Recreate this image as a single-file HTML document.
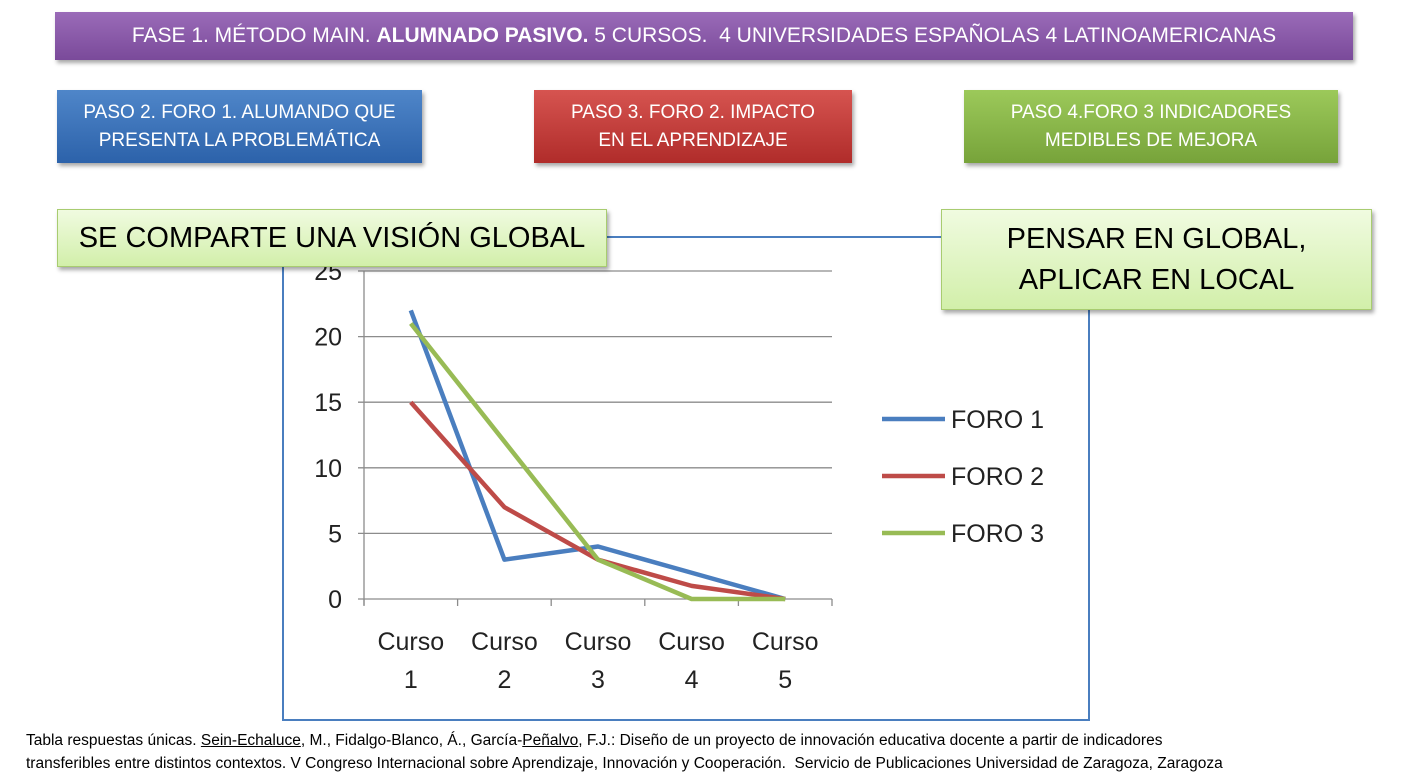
<!DOCTYPE html>
<html><head><meta charset="utf-8"><style>
body{margin:0;width:1425px;height:779px;background:#fff;overflow:hidden;position:relative;font-family:"Liberation Sans",sans-serif}
.b{position:absolute;box-sizing:border-box;display:flex;align-items:center;justify-content:center;text-align:center;box-shadow:2px 3px 4px rgba(0,0,0,.35)}
</style></head><body>
<div class="b" style="left:55px;top:12px;width:1298px;height:48px;background:linear-gradient(#9a6bb8,#7a4a9a);color:#fff;font-size:21px">FASE 1. MÉTODO MAIN.&nbsp;<b>ALUMNADO PASIVO.</b>&nbsp;5 CURSOS.&nbsp; 4 UNIVERSIDADES ESPAÑOLAS 4 LATINOAMERICANAS</div>
<div class="b" style="left:57px;top:90px;width:365px;height:73px;background:linear-gradient(#4f86c9,#2c62aa);color:#fff;font-size:19px;line-height:28px">PASO 2. FORO 1. ALUMANDO QUE<br>PRESENTA LA PROBLEMÁTICA</div>
<div class="b" style="left:534px;top:90px;width:318px;height:73px;background:linear-gradient(#d65450,#b02c2a);color:#fff;font-size:19px;line-height:28px">PASO 3. FORO 2. IMPACTO<br>EN EL APRENDIZAJE</div>
<div class="b" style="left:964px;top:90px;width:374px;height:73px;background:linear-gradient(#9cc95a,#77a33a);color:#fff;font-size:19px;line-height:28px">PASO 4.FORO 3 INDICADORES<br>MEDIBLES DE MEJORA</div>
<div style="position:absolute;left:282px;top:236px;width:804px;height:481px;border:2px solid #4a7ebf"></div>
<svg style="position:absolute;left:0;top:0" width="1425" height="779" id="chart"></svg>
<div class="b" style="left:57px;top:209px;width:550px;height:58px;background:linear-gradient(#f0fbe0,#d2efaa);border:1px solid #a8cc70;font-size:29px">SE COMPARTE UNA VISIÓN GLOBAL</div>
<div class="b" style="left:941px;top:209px;width:431px;height:101px;background:linear-gradient(#f0fbe0,#d2efaa);border:1px solid #a8cc70;font-size:29px;line-height:41px">PENSAR EN GLOBAL,<br>APLICAR EN LOCAL</div>
<div style="position:absolute;left:26px;top:729px;width:1400px;font-size:15.5px;line-height:23px;color:#000;white-space:nowrap">Tabla respuestas únicas. <u>Sein-Echaluce</u>, M., Fidalgo-Blanco, Á., García-<u>Peñalvo</u>, F.J.: Diseño de un proyecto de innovación educativa docente a partir de indicadores<br>transferibles entre distintos contextos. V Congreso Internacional sobre Aprendizaje, Innovación y Cooperación.&nbsp; Servicio de Publicaciones Universidad de Zaragoza, Zaragoza</div>
<script>
const categories=["Curso 1","Curso 2","Curso 3","Curso 4","Curso 5"];
const yTicks=[0,5,10,15,20,25];
const seriesNames=["FORO 1","FORO 2","FORO 3"];
const foro1=[22,3,4,2,0];
const foro2=[15,7,3,1,0];
const foro3=[21,12,3,0,0];
const colors=["#4a7ebf","#be4b48","#98bb55"];
const svg=document.getElementById('chart');const NS="http://www.w3.org/2000/svg";
const x0=364,x1=832,y0=599,y1=271,yMax=25;
const xs=i=>x0+(i+0.5)*(x1-x0)/categories.length;
const ys=v=>y0-(v/yMax)*(y0-y1);
function mk(t,a){const e=document.createElementNS(NS,t);for(const k in a)e.setAttribute(k,a[k]);svg.appendChild(e);return e;}
yTicks.forEach(v=>{
const g=mk('line',{x1:x0-6,x2:x1,y1:ys(v),y2:ys(v),stroke:'#8c8c8c','stroke-width':1.3});


const t=mk('text',{x:x0-22,y:ys(v)+9,'text-anchor':'end','font-size':25,fill:'#222','font-family':'Liberation Sans, sans-serif'});t.textContent=v;


});
const ax=mk('line',{x1:x0,x2:x0,y1:y1,y2:y0+6,stroke:'#8c8c8c','stroke-width':1.3});


for(let i=0;i<=categories.length;i++){const x=x0+i*(x1-x0)/categories.length;const tk=mk('line',{x1:x,x2:x,y1:y0,y2:y0+7,stroke:'#8c8c8c','stroke-width':1.3});

}
categories.forEach((c,i)=>{const p=c.split(' ');
const t=mk('text',{x:xs(i),y:650,'text-anchor':'middle','font-size':25,fill:'#222','font-family':'Liberation Sans, sans-serif'});


t.innerHTML='<tspan x="'+xs(i)+'">'+p[0]+'</tspan><tspan x="'+xs(i)+'" dy="38">'+p[1]+'</tspan>';});
[foro1,foro2,foro3].forEach((d,s)=>{
const pl=mk('polyline',{points:d.map((v,i)=>xs(i)+','+ys(v)).join(' '),fill:'none',stroke:colors[s],'stroke-width':4.5,'stroke-linejoin':'round'});


const ly=419+s*57;
const ll=mk('line',{x1:882,x2:945,y1:ly,y2:ly,stroke:colors[s],'stroke-width':4.5});


const lt=mk('text',{x:951,y:ly+9,'font-size':25,fill:'#222','font-family':'Liberation Sans, sans-serif'});lt.textContent=seriesNames[s];


});
</script>
</body></html>
